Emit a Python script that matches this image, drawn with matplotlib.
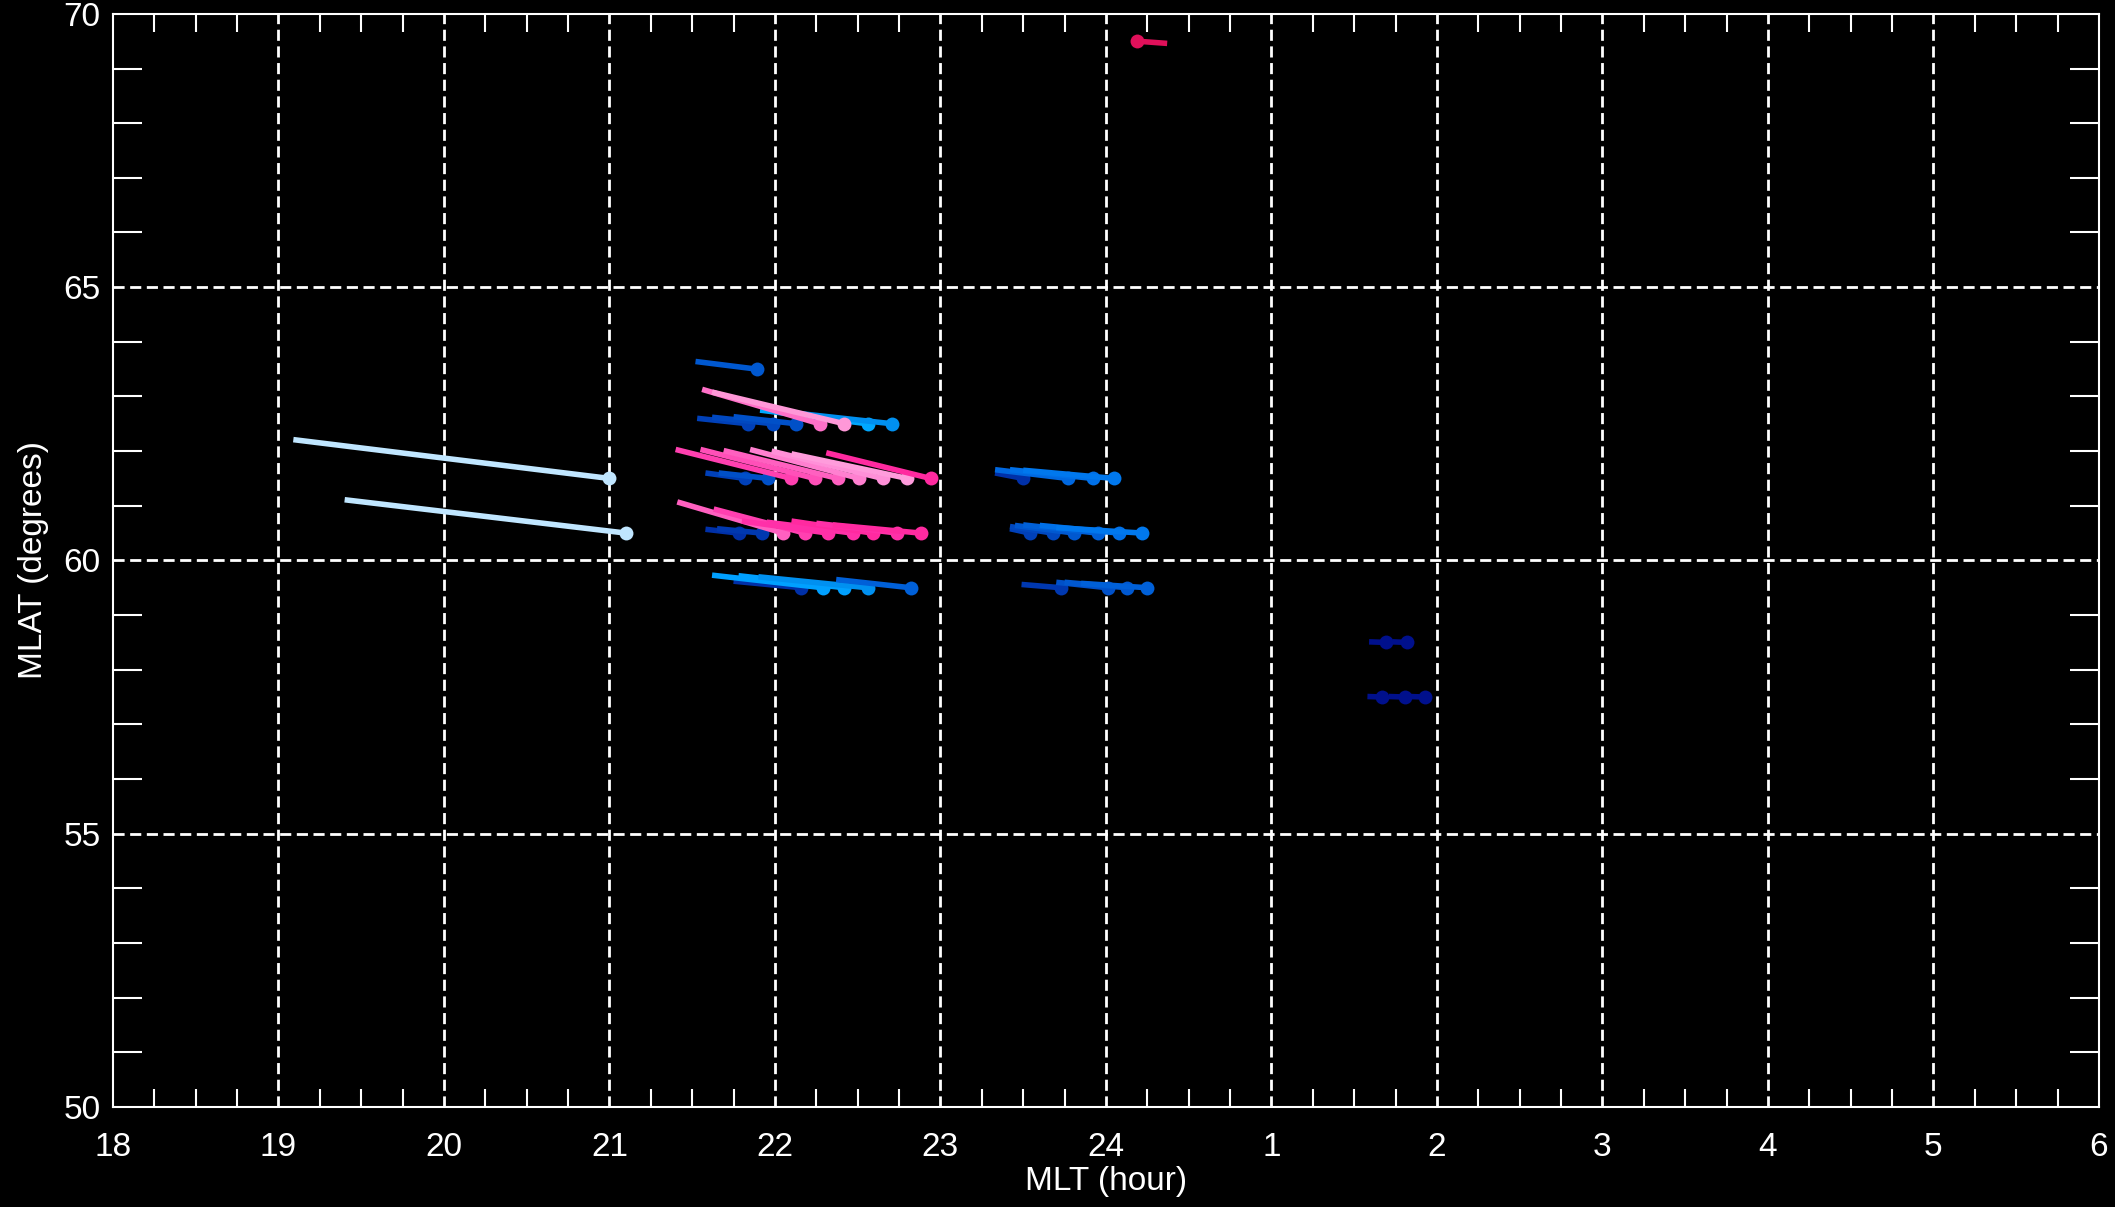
import matplotlib.pyplot as plt
from matplotlib.ticker import MultipleLocator, FixedLocator

plt.rcParams['font.family'] = ['Liberation Sans', 'DejaVu Sans']

# flow vectors: dot = end point, tail = start point (MLT in hours after 18, 24+ = next day)
dot_mlt = [21.00, 21.10,
           21.89,
           21.84, 21.99, 22.13, 22.56, 22.71, 22.27, 22.42,
           21.82, 21.96, 22.10, 22.24, 22.38, 22.51, 22.65, 22.80, 22.94,
           21.78, 21.92, 22.05, 22.18, 22.32, 22.47, 22.59, 22.74, 22.88,
           22.16, 22.29, 22.42, 22.56, 22.82,
           23.50, 23.77, 23.92, 24.05,
           23.54, 23.68, 23.81, 23.95, 24.08, 24.22,
           23.73, 24.01, 24.13, 24.25,
           25.69, 25.82, 25.67, 25.81, 25.93,
           24.19]
dot_lat = [61.5, 60.5,
           63.5,
           62.5, 62.5, 62.5, 62.5, 62.5, 62.5, 62.5,
           61.5, 61.5, 61.5, 61.5, 61.5, 61.5, 61.5, 61.5, 61.5,
           60.5, 60.5, 60.5, 60.5, 60.5, 60.5, 60.5, 60.5, 60.5,
           59.5, 59.5, 59.5, 59.5, 59.5,
           61.5, 61.5, 61.5, 61.5,
           60.5, 60.5, 60.5, 60.5, 60.5, 60.5,
           59.5, 59.5, 59.5, 59.5,
           58.5, 58.5, 57.5, 57.5, 57.5,
           69.5]
tail_mlt = [19.09, 19.40,
            21.52,
            21.53, 21.62, 21.75, 21.91, 22.05, 21.56, 21.62,
            21.58, 21.66, 21.40, 21.55, 21.69, 21.85, 21.98, 22.10, 22.31,
            21.58, 21.65, 21.41, 21.63, 21.80, 21.95, 22.10, 22.25, 22.35,
            21.75, 21.62, 21.78, 21.90, 22.37,
            23.33, 23.33, 23.42, 23.50,
            23.42, 23.42, 23.45, 23.50, 23.60, 23.70,
            23.49, 23.70, 23.75, 23.85,
            25.59, 25.73, 25.58, 25.71, 25.83,
            24.37]
tail_lat = [62.21, 61.11,
            63.64,
            62.60, 62.62, 62.63, 62.75, 62.72, 63.13, 63.08,
            61.60, 61.60, 62.03, 62.03, 62.01, 62.03, 62.00, 61.95, 61.97,
            60.57, 60.58, 61.07, 60.94, 60.72, 60.70, 60.72, 60.68, 60.65,
            59.62, 59.73, 59.72, 59.70, 59.65,
            61.60, 61.66, 61.66, 61.65,
            60.58, 60.62, 60.64, 60.65, 60.64, 60.60,
            59.56, 59.60, 59.60, 59.58,
            58.51, 58.51, 57.51, 57.51, 57.51,
            69.46]
colors = ['#c0e6ff', '#c0e6ff',
          '#0058d0',
          '#0040b8', '#0048c0', '#0050c8', '#00a8ff', '#0090f0', '#ff70c8', '#ff98d8',
          '#0040b8', '#0050c8', '#ff40b0', '#ff50b8', '#ff60c0', '#ff80d0', '#ff90d8', '#ff9cdc', '#ff2aa0',
          '#0030a8', '#0038b0', '#ff60c0', '#ff40b0', '#ff30a8', '#ff30a8', '#ff2aa0', '#ff30a8', '#ff2aa0',
          '#0030a8', '#00a0ff', '#00a0ff', '#0090f0', '#0060d8',
          '#0030a8', '#0068e0', '#0070e8', '#0078ee',
          '#0040b8', '#0048c0', '#0058d0', '#0060d8', '#0070e8', '#0078ee',
          '#0038b0', '#0050c8', '#0058d0', '#0060d8',
          '#00108c', '#00108c', '#00108c', '#00108c', '#00108c',
          '#e0105a']

hour_ticks = list(range(18, 31))
hour_labels = [str(h % 24 if h != 24 else 24) for h in hour_ticks]
lat_ticks = [50, 55, 60, 65, 70]

fig = plt.figure(figsize=(21.15, 12.07), dpi=100, facecolor='black')
ax = fig.add_axes([0.0534, 0.0829, 0.939, 0.9056], facecolor='black')

for x0, y0, x1, y1, c in zip(tail_mlt, tail_lat, dot_mlt, dot_lat, colors):
    ax.plot([x0, x1], [y0, y1], color=c, lw=4, solid_capstyle='butt', zorder=3)
    ax.plot(x1, y1, 'o', color=c, ms=10, mec='none', zorder=3)

ax.set_xlim(18, 30)
ax.set_ylim(50, 70)

# dashed grid at every hour and every 5 degrees
for h in hour_ticks[1:-1]:
    ax.axvline(h, color='white', lw=2, dashes=(4, 2), zorder=1)
for lat in lat_ticks[1:-1]:
    ax.axhline(lat, color='white', lw=2, dashes=(4, 2), zorder=1)

ax.xaxis.set_major_locator(FixedLocator(hour_ticks))
ax.set_xticklabels(hour_labels)
ax.yaxis.set_major_locator(FixedLocator(lat_ticks))
ax.xaxis.set_minor_locator(MultipleLocator(0.25))
ax.yaxis.set_minor_locator(MultipleLocator(1))

ax.tick_params(which='major', length=0, labelsize=24, colors='white')
ax.tick_params(axis='x', which='major', pad=18)
ax.tick_params(axis='y', which='major', pad=9)
ax.tick_params(which='minor', direction='in', top=True, right=True,
               color='white', width=1.5)
ax.tick_params(axis='x', which='minor', length=13)
ax.tick_params(axis='y', which='minor', length=21)

for sp in ax.spines.values():
    sp.set_color('white')
    sp.set_linewidth(1.5)

ax.set_xlabel('MLT (hour)', color='white', fontsize=24, labelpad=2)
ax.set_ylabel('MLAT (degrees)', color='white', fontsize=24, labelpad=10)

fig.savefig('out.png', dpi=100, facecolor='black')
